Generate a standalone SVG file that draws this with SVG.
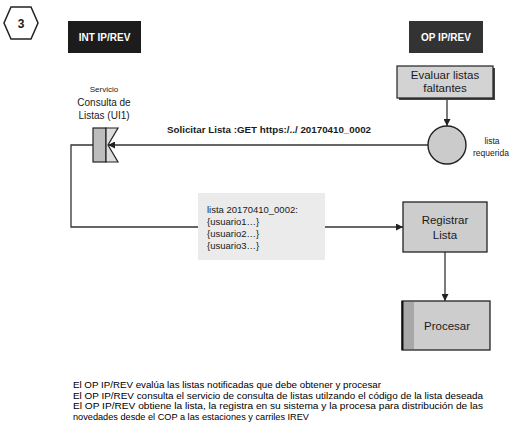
<svg xmlns="http://www.w3.org/2000/svg" width="521" height="435" viewBox="0 0 521 435">
<style>
text{font-family:"Liberation Sans",Arial,sans-serif;fill:#1a1a1a}
.hdr{font-size:10px;font-weight:bold;fill:#fff;text-anchor:middle}
.lbl{font-size:11.5px;text-anchor:middle}
.ln{fill:none;stroke:#333;stroke-width:1.3}
.bx{fill:#cdcdcd;stroke:#222;stroke-width:1.3}
.note{font-size:9.5px}
.foot{font-size:9.4px;fill:#000}
</style>
<defs>
<marker id="ah" viewBox="0 0 10 10" refX="10" refY="5" markerWidth="7" markerHeight="7" markerUnits="userSpaceOnUse" orient="auto">
<path d="M0,0 L10,5 L0,10 z" fill="#222"/>
</marker>
</defs>
<rect width="521" height="435" fill="#fff"/>

<g id="step">
<polygon points="11,7 31,7 38,23 31,39 11,39 4,23" fill="#fff" stroke="#222" stroke-width="1.5"/>
<text x="21" y="27.5" font-size="12" font-weight="bold" text-anchor="middle">3</text>
</g>

<g id="int-hdr">
<rect x="68" y="21" width="73" height="32" fill="#1c1c1c"/>
<text class="hdr" x="104.5" y="40.5">INT IP/REV</text>
</g>
<g id="op-hdr">
<rect x="409" y="21" width="74" height="32" fill="#333"/>
<text class="hdr" x="446" y="40.5">OP IP/REV</text>
</g>

<g id="connectors">
<line class="ln" x1="447" y1="100" x2="447" y2="126" marker-end="url(#ah)"/>
<line class="ln" x1="428" y1="145" x2="108" y2="145" marker-end="url(#ah)"/>
<polyline class="ln" points="93,145 71,145 71,227 198,227"/>
<line class="ln" x1="325" y1="227" x2="403" y2="227" marker-end="url(#ah)"/>
<line class="ln" x1="445" y1="252" x2="445" y2="301" marker-end="url(#ah)"/>
</g>

<g id="evaluar">
<rect x="399" y="68" width="96" height="32" fill="#444"/>
<rect x="397" y="66" width="96" height="32" fill="#d3d3d3" stroke="#222" stroke-width="1.2"/>
<text class="lbl" x="445" y="79">Evaluar listas</text>
<text class="lbl" x="445" y="92" font-size="11">faltantes</text>
</g>

<g id="lista-requerida">
<circle cx="447" cy="145" r="19" fill="#cbcbcb" stroke="#222" stroke-width="1.4"/>
<text x="492" y="144" font-size="8.5" text-anchor="middle">lista</text>
<text x="491" y="156" font-size="8.5" text-anchor="middle">requerida</text>
</g>

<g id="solicitar-label">
<text x="167" y="133" font-size="9.5" font-weight="bold" textLength="204" lengthAdjust="spacingAndGlyphs">Solicitar Lista :GET https:/../ 20170410_0002</text>
</g>

<g id="servicio">
<text x="104" y="92" font-size="8" text-anchor="middle">Servicio</text>
<text x="104" y="106" font-size="10" text-anchor="middle">Consulta de</text>
<text x="104" y="119" font-size="10" text-anchor="middle">Listas (UI1)</text>
<rect x="93" y="128" width="13" height="34" fill="#bdbdbd" stroke="#222" stroke-width="1.2"/>
<polygon points="106,128 118,128 108,145 118,162 106,162" fill="#dcdcdc" stroke="#222" stroke-width="1.2"/>
</g>

<g id="nota">
<rect x="198" y="193" width="127" height="67" fill="#ebebeb"/>
<text class="note" x="207" y="213">lista 20170410_0002:</text>
<text class="note" x="207" y="225">{usuario1…}</text>
<text class="note" x="207" y="237">{usuario2…}</text>
<text class="note" x="207" y="249">{usuario3…}</text>
</g>

<g id="registrar">
<rect class="bx" x="403" y="202" width="84" height="50"/>
<text class="lbl" x="445" y="224">Registrar</text>
<text class="lbl" x="445" y="239">Lista</text>
</g>

<g id="procesar">
<rect class="bx" x="402" y="301" width="88" height="49" stroke-width="1.6"/>
<rect x="403" y="302" width="11" height="47" fill="#a8a8a8"/>
<line x1="402.5" y1="301" x2="402.5" y2="350" stroke="#111" stroke-width="2"/>
<text class="lbl" x="447" y="330" font-size="12.5">Procesar</text>
</g>

<g id="descripcion">
<text class="foot" x="73" y="388" textLength="308" lengthAdjust="spacingAndGlyphs">El OP IP/REV evalúa las listas notificadas que debe obtener y procesar</text>
<text class="foot" x="73" y="398.5" textLength="410" lengthAdjust="spacingAndGlyphs">El OP IP/REV consulta el servicio de consulta de listas utilzando el código de la lista deseada</text>
<text class="foot" x="73" y="409" textLength="410" lengthAdjust="spacingAndGlyphs">El OP IP/REV obtiene la lista, la registra en su sistema y la procesa para distribución de las</text>
<text class="foot" x="73" y="419.5" textLength="236" lengthAdjust="spacingAndGlyphs">novedades desde el COP a las estaciones y carriles IREV</text>
</g>
</svg>
